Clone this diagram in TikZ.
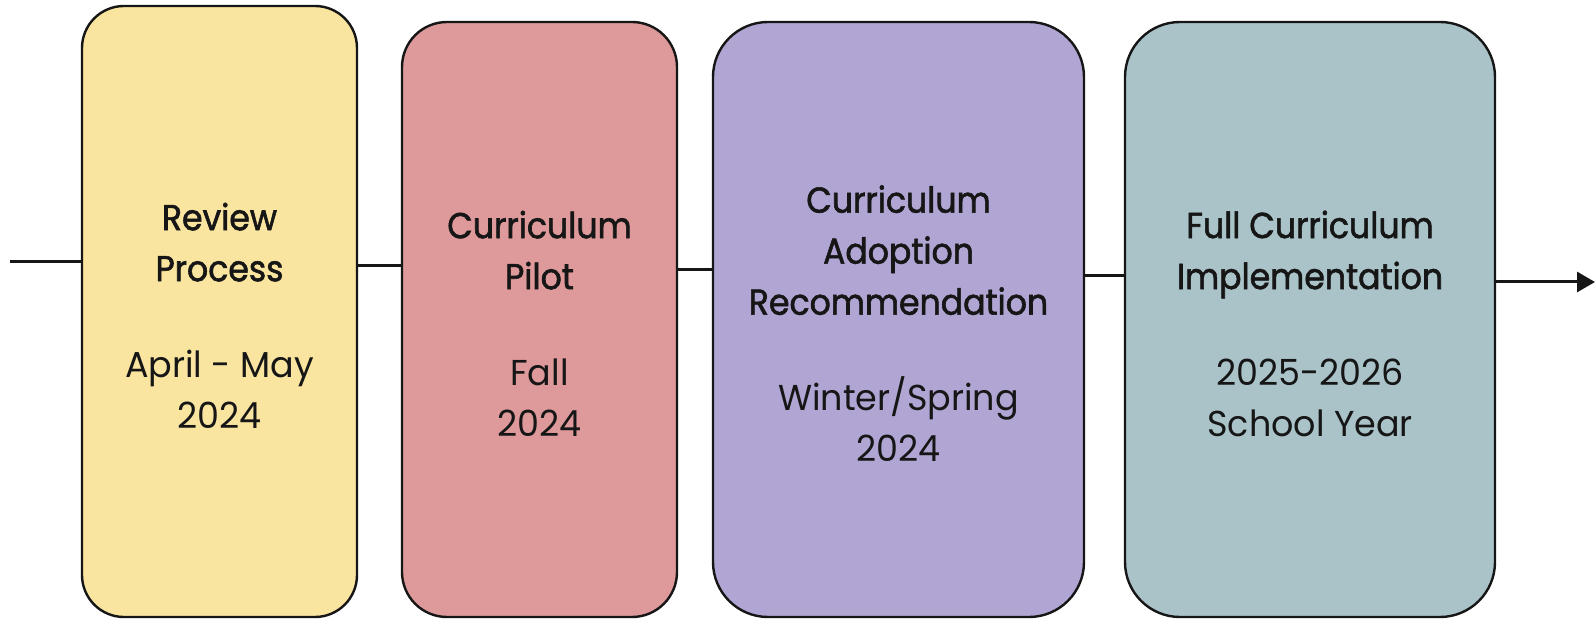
\documentclass[tikz,border=0pt]{standalone}
\usepackage{fontspec}
\setmainfont{Poppins}[FakeStretch=0.97]
\newfontfamily\headfont{Poppins}[FakeStretch=0.92,FakeBold=1.6]
\usetikzlibrary{arrows.meta}

\definecolor{sand}{HTML}{F9E4A0}
\definecolor{rose}{HTML}{DE9A9A}
\definecolor{lilac}{HTML}{B1A6D3}
\definecolor{slate}{HTML}{A9C3C8}
\definecolor{ink}{HTML}{161616}

\begin{document}
\begin{tikzpicture}[x=0.5pt,y=-0.5pt,
  stage/.style={draw=ink, line width=1.2pt, inner sep=0pt},
  label/.style={align=center, text=ink, inner sep=0pt,
    font=\fontsize{18}{25.5}\selectfont},
  link/.style={draw=ink, line width=1.5pt}]
\useasboundingbox (0,0) rectangle (1596,620);

% stage boxes
\node[stage, fill=sand, rounded corners=21pt,
  minimum width=137.5pt, minimum height=305.5pt] (b1) at (219.5,311.5) {};
\node[stage, fill=rose, rounded corners=22.5pt,
  minimum width=137.5pt, minimum height=297.5pt] (b2) at (539.5,319.5) {};
\node[stage, fill=lilac, rounded corners=27.5pt,
  minimum width=185.5pt, minimum height=297.5pt] (b3) at (898.5,319.5) {};
\node[stage, fill=slate, rounded corners=27.5pt,
  minimum width=185pt, minimum height=297.5pt] (b4) at (1310,319.5) {};

% stage texts
\node[label] (t1) at ([yshift=-2pt]b1.center)
  {{\headfont Review}\\{\headfont Process}\\[22.5pt]April - May\\2024};
\node[label] (t2) at ([yshift=-2pt]b2.center)
  {{\headfont Curriculum}\\{\headfont Pilot}\\[22.5pt]Fall\\2024};
\node[label] (t3) at ([yshift=-2pt]b3.center)
  {{\headfont Curriculum}\\{\headfont Adoption}\\{\headfont Recommendation}\\[22.5pt]Winter/Spring\\2024};
\node[label] (t4) at ([yshift=-2pt]b4.center)
  {{\headfont Full Curriculum}\\{\headfont Implementation}\\[22.5pt]2025-2026\\School Year};

% timeline
\coordinate (tail) at (10,262);
\coordinate (l1) at (0,266);
\coordinate (l2) at (0,270);
\coordinate (l3) at (0,276);
\coordinate (l4) at (0,282);
\coordinate (tip) at (1595,282);
\draw[link] (tail) -- (b1.west |- tail);
\draw[link] (b1.east |- l1) -- (b2.west |- l1);
\draw[link] (b2.east |- l2) -- (b3.west |- l2);
\draw[link] (b3.east |- l3) -- (b4.west |- l3);
\draw[link, -{Triangle[length=9pt,width=10pt]}] (b4.east |- l4) -- (tip);
\end{tikzpicture}
\end{document}
